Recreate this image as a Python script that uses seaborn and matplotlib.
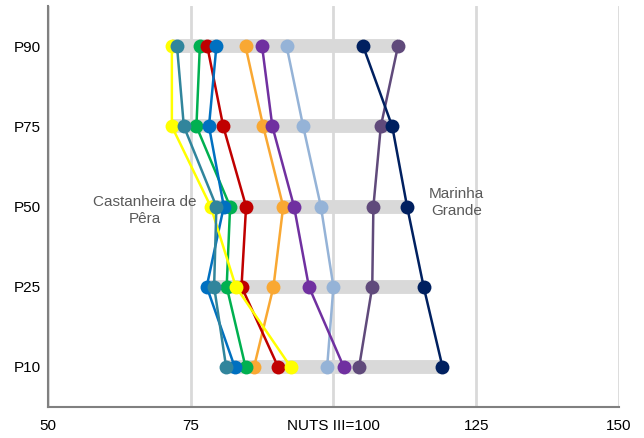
import pandas as pd
import matplotlib
matplotlib.use("Agg")
import matplotlib.pyplot as plt
import seaborn as sns

# ==========================================================
# Data (index, NUTS III = 100)
# ==========================================================

percentis = ["P10", "P25", "P50", "P75", "P90"]

municipios = [
    "Pedrógão Grande", "Marinha Grande", "Leiria", "Batalha", "Porto de Mós",
    "Ansião", "Alvaiázere", "Pombal", "Castanheira de Pêra", "Figueiró dos Vinhos",
]

cores = [
    "#604A7B", "#002060", "#95B3D7", "#F9A833", "#7030A0",
    "#00B050", "#C00000", "#0070C0", "#FFFF00", "#31859C",
]

# values per municipality, ordered P10, P25, P50, P75, P90
valores = {
    "Pedrógão Grande":     [104.5, 106.8, 107.0, 108.3, 111.3],
    "Marinha Grande":      [119.1, 115.8, 112.9, 110.3, 105.2],
    "Leiria":              [98.9, 100.0, 97.8, 94.7, 91.8],
    "Batalha":             [86.1, 89.5, 91.2, 87.7, 84.6],
    "Porto de Mós":        [101.8, 95.7, 93.1, 89.3, 87.5],
    "Ansião":              [84.6, 81.3, 81.9, 76.0, 76.6],
    "Alvaiázere":          [90.3, 83.9, 84.7, 80.7, 77.9],
    "Pombal":              [82.7, 77.8, 80.8, 78.2, 79.5],
    "Castanheira de Pêra": [92.5, 82.9, 78.5, 71.7, 71.7],
    "Figueiró dos Vinhos": [81.2, 79.1, 79.5, 73.8, 72.6],
}

x_ticks = [50, 75, 100, 125, 150]
x_tick_labels = ["50", "75", "NUTS III=100", "125", "150"]

# ==========================================================
# Build table
# ==========================================================

rows = []
for m in municipios:
    for pos, v in enumerate(valores[m]):
        rows.append({"municipio": m, "pos": pos, "valor": v})
df = pd.DataFrame(rows)

# ==========================================================
# Plot
# ==========================================================

sns.set_style("white")
plt.rcParams["font.family"] = ["Liberation Sans", "DejaVu Sans"]

fig = plt.figure(figsize=(6.44, 4.38), dpi=100)
ax = fig.add_axes([0.0745, 0.071, 0.8865, 0.915])

# grey range band behind each percentile
faixa = df.groupby("pos")["valor"].agg(["min", "max"])
ax.hlines(faixa.index, faixa["min"], faixa["max"],
          color="#D9D9D9", linewidth=10, zorder=1)

sns.lineplot(
    data=df,
    x="valor",
    y="pos",
    hue="municipio",
    hue_order=municipios,
    palette=dict(zip(municipios, cores)),
    sort=False,
    estimator=None,
    marker="o",
    markersize=10,
    markeredgewidth=0,
    linewidth=1.8,
    legend=False,
    zorder=3,
    ax=ax,
)

ax.text(67.0, 1.95, "Castanheira de\nPêra", ha="center", va="center",
        fontsize=11, color="#595959", linespacing=1.3)
ax.text(121.6, 2.05, "Marinha\nGrande", ha="center", va="center",
        fontsize=11, color="#595959", linespacing=1.3)

ax.set_xlim(50, 150)
ax.set_ylim(-0.5, 4.5)
ax.set_xticks(x_ticks)
ax.set_xticklabels(x_tick_labels)
ax.set_yticks(range(len(percentis)))
ax.set_yticklabels(percentis)
ax.set_xlabel("")
ax.set_ylabel("")

ax.grid(axis="x", color="#D9D9D9", linewidth=2)
ax.set_axisbelow(True)
ax.tick_params(axis="both", length=0, labelsize=11, colors="#000000")
ax.tick_params(axis="y", pad=5)
ax.tick_params(axis="x", pad=9)

for side in ["top", "right"]:
    ax.spines[side].set_visible(False)
for side in ["left", "bottom"]:
    ax.spines[side].set_color("#808080")
    ax.spines[side].set_linewidth(1.5)

fig.savefig("out.png", dpi=100)
